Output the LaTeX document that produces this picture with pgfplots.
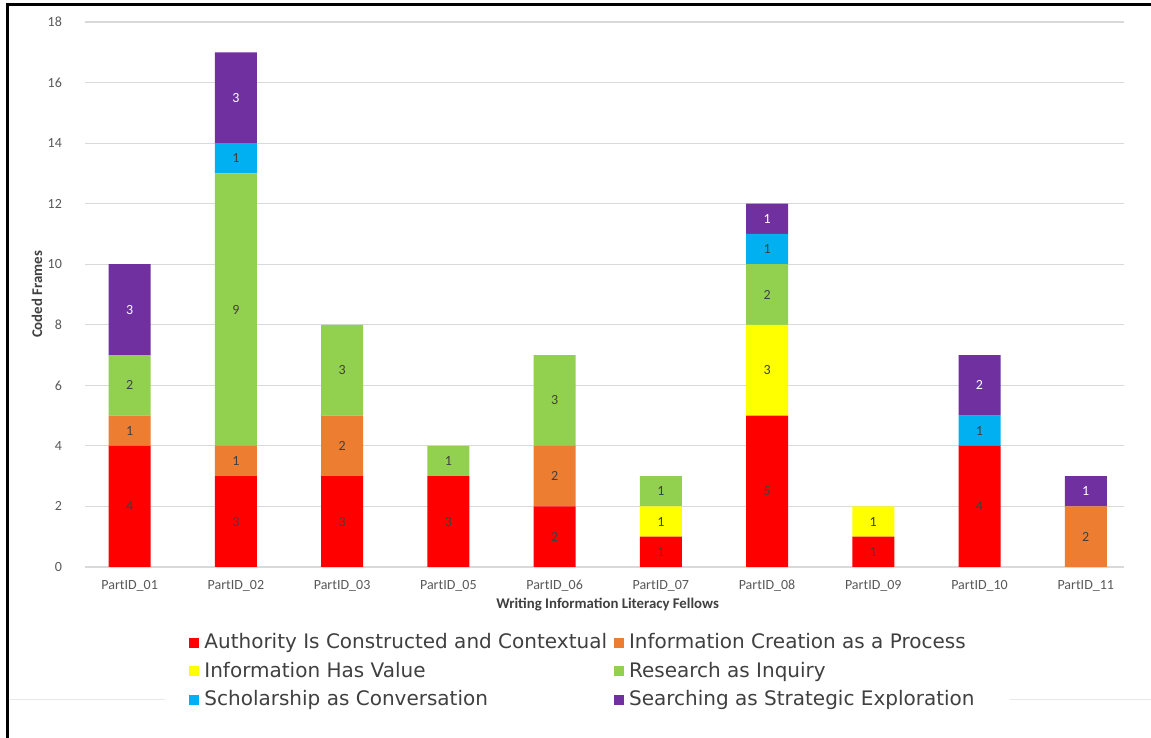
\documentclass[border=0pt]{standalone}
\usepackage{pgfplots}
\pgfplotsset{compat=1.18}
\usepackage{fontspec}
\setmainfont{Carlito}
\newfontfamily\legendfont{DejaVu Sans}
\definecolor{cAuth}{HTML}{FF0000}
\definecolor{cCre}{HTML}{ED7D31}
\definecolor{cVal}{HTML}{FFFF00}
\definecolor{cRes}{HTML}{92D050}
\definecolor{cSch}{HTML}{00B0F0}
\definecolor{cSea}{HTML}{7030A0}
\definecolor{txt}{HTML}{404040}
\definecolor{tickc}{HTML}{595959}
\definecolor{gridc}{HTML}{D9D9D9}
\pgfplotsset{legsq/.style={legend image code/.code={\fill[##1] (0pt,-2.2pt) rectangle (5pt,2.8pt);}}}
\begin{document}
\begin{tikzpicture}
\path[use as bounding box] (0,0) rectangle (575.5pt,369pt);
\fill[white] (0,0) rectangle (575.5pt,369pt);
\draw[gridc!60, line width=0.5pt] (5pt,19pt) -- (82.5pt,19pt);
\draw[gridc!60, line width=0.5pt] (505pt,19pt) -- (575.5pt,19pt);
\begin{axis}[
  at={(42.5pt,85.5pt)}, anchor=south west,
  scale only axis, width=519.5pt, height=272.5pt,
  ybar stacked, bar width=21pt,
  xmin=-0.42, xmax=9.36, ymin=0, ymax=18,
  xtick={0,...,9},
  xticklabels={PartID\_01,PartID\_02,PartID\_03,PartID\_05,PartID\_06,PartID\_07,PartID\_08,PartID\_09,PartID\_10,PartID\_11},
  ytick={0,2,...,18},
  ymajorgrids, grid style={draw=gridc, line width=0.6pt},
  axis line style={draw=none}, major tick length=0pt,
  tick style={draw=none},
  /pgf/number format/assume math mode=true,
  ticklabel style={font=\fontsize{7}{8}\selectfont, text=tickc},
  yticklabel style={xshift=-8pt},
  xticklabel style={yshift=-3pt},
  xlabel={Writing Information Literacy Fellows},
  ylabel={Coded Frames},
  every axis x label/.style={at={(axis description cs:0.503,-0.0697)}, anchor=center, font=\bfseries\fontsize{7.4}{8}\selectfont, text=txt},
  every axis y label/.style={at={(axis description cs:-0.0462,0.5)}, rotate=90, anchor=center, font=\bfseries\fontsize{7.4}{8}\selectfont, text=txt},
  point meta=rawy,
  nodes near coords={\pgfmathfloatifflags{\pgfplotspointmeta}{0}{}{\pgfmathprintnumber{\pgfplotspointmeta}}},
  every node near coord/.append style={anchor=center, font=\fontsize{7}{8}\selectfont, text=txt},
  legend columns=2,
  legend cell align=left,
  legend style={at={(axis description cs:0.1001,-0.121)}, anchor=north west, draw=none, fill=none, inner sep=0pt,
    font=\legendfont\fontsize{10}{11}\selectfont, text=txt, row sep=4.25pt,
    nodes={inner sep=0pt, text height=7.6pt, text depth=2.4pt},
    /tikz/every odd column/.append style={column sep=2.5pt},
    /tikz/every even column/.append style={column sep=3.5pt}},
]
\addplot[fill=cAuth, draw=none, legsq] coordinates {(0,4) (1,3) (2,3) (3,3) (4,2) (5,1) (6,5) (7,1) (8,4) (9,0)};
\addplot[fill=cCre, draw=none, legsq] coordinates {(0,1) (1,1) (2,2) (3,0) (4,2) (5,0) (6,0) (7,0) (8,0) (9,2)};
\addplot[fill=cVal, draw=none, legsq] coordinates {(0,0) (1,0) (2,0) (3,0) (4,0) (5,1) (6,3) (7,1) (8,0) (9,0)};
\addplot[fill=cRes, draw=none, legsq] coordinates {(0,2) (1,9) (2,3) (3,1) (4,3) (5,1) (6,2) (7,0) (8,0) (9,0)};
\addplot[fill=cSch, draw=none, legsq] coordinates {(0,0) (1,1) (2,0) (3,0) (4,0) (5,0) (6,1) (7,0) (8,1) (9,0)};
\addplot[fill=cSea, draw=none, legsq, every node near coord/.append style={text=white}] coordinates {(0,3) (1,3) (2,0) (3,0) (4,0) (5,0) (6,1) (7,0) (8,2) (9,1)};
\legend{Authority Is Constructed and Contextual, Information Creation as a Process, Information Has Value, Research as Inquiry, Scholarship as Conversation, Searching as Strategic Exploration}
\end{axis}
\draw[black, line width=1.5pt] (3.5pt,0) -- (3.5pt,366.5pt) -- (575.5pt,366.5pt);
\end{tikzpicture}
\end{document}
